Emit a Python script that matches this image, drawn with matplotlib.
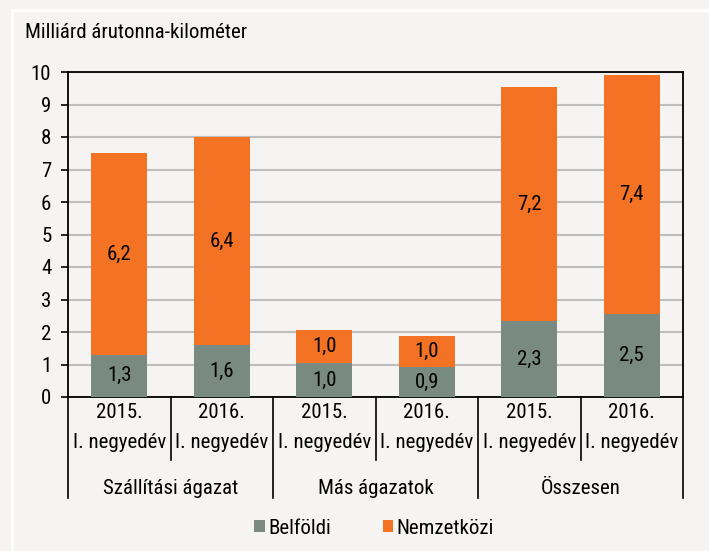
import matplotlib
matplotlib.use("Agg")
import matplotlib.pyplot as plt
from matplotlib.transforms import blended_transform_factory
from matplotlib.lines import Line2D
from matplotlib import font_manager

# ---- data ----
periods = ["2015.\nI. negyedév", "2016.\nI. negyedév"] * 3
groups = ["Szállítási ágazat", "Más ágazatok", "Összesen"]
belfoldi = [1.3, 1.6, 1.04, 0.92, 2.34, 2.54]
nemzetkozi = [6.2, 6.4, 1.02, 0.97, 7.2, 7.36]
series_names = ["Belföldi", "Nemzetközi"]
yticks = list(range(0, 11))
ylabel = "Milliárd árutonna-kilométer"

# ---- style ----
names = {f.name for f in font_manager.fontManager.ttflist}
fam = [f for f in ["Roboto Condensed", "Liberation Sans"] if f in names] + ["DejaVu Sans"]
plt.rcParams["font.family"] = fam
FS = 15

BG = "#F5F4F2"
GREY = "#798A82"
ORANGE = "#F47224"

W, H = 709, 551
fig = plt.figure(figsize=(W / 100, H / 100), dpi=100, facecolor=BG)

# white frame lines
fig.add_artist(Line2D([12 / W, 12 / W], [0, 1 - 10 / H], color="white", lw=2, transform=fig.transFigure))
fig.add_artist(Line2D([12 / W, 1], [1 - 10 / H, 1 - 10 / H], color="white", lw=2, transform=fig.transFigure))

L, R, T, B = 68, 683, 72, 397
ax = fig.add_axes([L / W, 1 - B / H, (R - L) / W, (B - T) / H])
ax.set_facecolor(BG)

x = list(range(len(belfoldi)))
bw = 0.55
ax.bar(x, belfoldi, width=bw, color=GREY, zorder=3, label=series_names[0])
ax.bar(x, nemzetkozi, width=bw, bottom=belfoldi, color=ORANGE, zorder=3, label=series_names[1])

for xi, b, n in zip(x, belfoldi, nemzetkozi):
    ax.text(xi, b / 2, f"{b:.1f}".replace(".", ","), ha="center", va="center", fontsize=FS, zorder=4)
    ax.text(xi, b + n / 2, f"{n:.1f}".replace(".", ","), ha="center", va="center", fontsize=FS, zorder=4)

ax.set_xlim(-0.5, len(x) - 0.5)
ax.set_ylim(0, 10)
ax.set_yticks(yticks)
ax.set_yticklabels([str(t) for t in yticks], fontsize=FS)
ax.tick_params(axis="y", direction="out", length=5, width=1.2, pad=7, color="black")
ax.set_xticks([])
ax.grid(axis="y", color="#BEBEBE", lw=1.5, zorder=0)
for s in ax.spines.values():
    s.set_color("black")
    s.set_linewidth(1.3)

# category axis
tr = blended_transform_factory(ax.transData, fig.transFigure)
y_row1 = 1 - 413 / H
y_row2 = 1 - 443 / H
y_grp = 1 - 488 / H
y_short = 1 - 460 / H
y_long = 1 - 498 / H
y_axis = 1 - B / H
for xi, lab in zip(x, periods):
    l1, l2 = lab.split("\n")
    ax.text(xi, y_row1, l1, transform=tr, ha="center", va="center", fontsize=FS, clip_on=False)
    ax.text(xi, y_row2, l2, transform=tr, ha="center", va="center", fontsize=FS, clip_on=False)
for i in range(len(x) + 1):
    yend = y_long if i % 2 == 0 else y_short
    fig.add_artist(Line2D([i - 0.5, i - 0.5], [y_axis, yend], color="black", lw=1.2, transform=tr))
for gi, g in enumerate(groups):
    ax.text(2 * gi + 0.5, y_grp, g, transform=tr, ha="center", va="center", fontsize=FS, clip_on=False)

fig.text(25 / W, 1 - 33 / H, ylabel, ha="left", va="center", fontsize=FS)

leg = fig.legend(loc="center", bbox_to_anchor=(374 / W, 1 - 528 / H), ncol=2, frameon=False,
                 fontsize=FS, handlelength=0.5, handleheight=0.5, handletextpad=0.15, columnspacing=2.5)

fig.savefig("out.png", dpi=100, facecolor=BG)
